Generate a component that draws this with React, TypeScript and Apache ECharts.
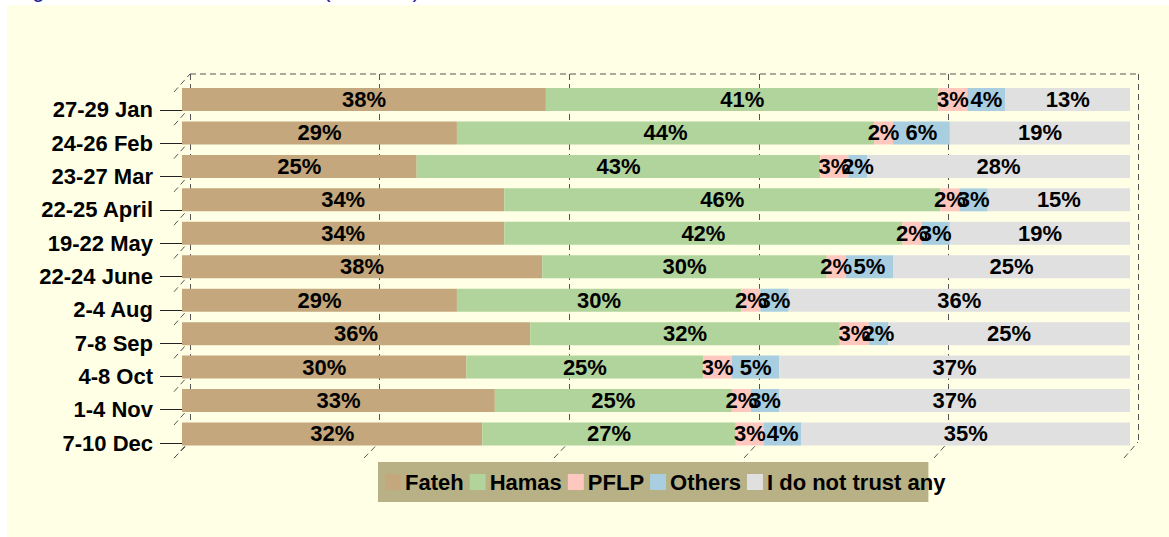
import React, { useEffect, useRef } from "react";
import * as echarts from "echarts";

const categories = ["27-29 Jan", "24-26 Feb", "23-27 Mar", "22-25 April", "19-22 May", "22-24 June", "2-4 Aug", "7-8 Sep", "4-8 Oct", "1-4 Nov", "7-10 Dec"];
const fateh = [38, 29, 25, 34, 34, 38, 29, 36, 30, 33, 32];
const hamas = [41, 44, 43, 46, 42, 30, 30, 32, 25, 25, 27];
const pflp = [3, 2, 3, 2, 2, 2, 2, 3, 3, 2, 3];
const others = [4, 6, 2, 3, 3, 5, 3, 2, 5, 3, 4];
const noTrust = [13, 19, 28, 15, 19, 25, 36, 25, 37, 37, 35];
const seriesNames = ["Fateh", "Hamas", "PFLP", "Others", "I do not trust any"];
const seriesColors = ["#C4A77C", "#B0D49B", "#FFC8BF", "#A8CEE0", "#E0E0E0"];
const xTicks = [0, 20, 40, 60, 80, 100];

const FONT = "'Liberation Sans', Arial, Helvetica, sans-serif";

export default function App() {
  const ref = useRef<HTMLDivElement>(null);
  useEffect(() => {
    if (!ref.current) return;
    const chart = echarts.init(ref.current, null, { renderer: "svg" });
    const raw = [fateh, hamas, pflp, others, noTrust];
    const totals = categories.map((_, i) => raw.reduce((s, arr) => s + arr[i], 0));

    const series = raw.map((arr, si) => ({
      type: "bar",
      name: seriesNames[si],
      stack: "all",
      xAxisIndex: 0,
      yAxisIndex: 0,
      barWidth: 23,
      z: 2,
      itemStyle: { color: seriesColors[si] },
      label: {
        show: true,
        position: "inside",
        color: "#000",
        fontWeight: "bold",
        fontSize: 22,
        fontFamily: FONT,
        formatter: (p: any) => `${arr[p.dataIndex]}%`,
      },
      data: arr.map((v, i) => (v / totals[i]) * 100),
    }));

    // 3D wall decorations
    const dashed = { stroke: "#555", lineWidth: 1, lineDash: [6, 4] };
    const graphics: any[] = [];
    graphics.push({
      type: "text",
      left: 14,
      top: -22,
      z: 10,
      style: {
        text: "Figure 15: Trust in the Factions (Jan-Dec)",
        fill: "#20208F",
        font: `22px ${FONT}`,
      },
    });
    graphics.push({ type: "line", z: 1, shape: { x1: 190, y1: 74, x2: 1138, y2: 74 }, style: dashed });
    for (let k = 0; k <= categories.length; k++) {
      graphics.push({
        type: "line",
        z: 1,
        shape: { x1: 174, y1: 92 + k * 33.3, x2: 190, y2: 74 + k * 33.3 },
        style: dashed,
      });
    }
    xTicks.forEach((_, i) => {
      graphics.push({
        type: "line",
        z: 1,
        shape: { x1: 174 + i * 190, y1: 458, x2: 190 + i * 189.6, y2: 442 },
        style: dashed,
      });
    });

    chart.setOption({
      animation: false,
      backgroundColor: "transparent",
      textStyle: { fontFamily: FONT },
      grid: [
        { left: 182, width: 948, top: 82.8, height: 367.9 },
        { left: 188, width: 900, top: 93.3, height: 366.4 },
        { left: 190, width: 948, top: 74, height: 368 },
      ],
      xAxis: [
        { type: "value", gridIndex: 0, min: 0, max: 100, show: false, splitLine: { show: false } },
        { type: "value", gridIndex: 1, min: 0, max: 100, show: false, splitLine: { show: false } },
        {
          type: "value",
          gridIndex: 2,
          min: 0,
          max: 100,
          interval: 20,
          axisLine: { show: false },
          axisTick: { show: false },
          axisLabel: { show: false },
          splitLine: { show: true, lineStyle: { color: "#555", width: 1, type: [6, 4] } },
        },
      ],
      yAxis: [
        { type: "category", gridIndex: 0, data: categories, inverse: true, show: false },
        {
          type: "category",
          gridIndex: 1,
          data: categories,
          inverse: true,
          axisLine: { show: false },
          axisTick: { show: true, length: 28, alignWithLabel: true, lineStyle: { color: "#222", width: 1 } },
          axisLabel: { margin: 35, color: "#000", fontWeight: "bold", fontSize: 22, fontFamily: FONT },
          splitLine: { show: false },
        },
        { type: "category", gridIndex: 2, data: categories, show: false },
      ],
      legend: {
        data: seriesNames,
        left: 378,
        top: 462,
        orient: "horizontal",
        backgroundColor: "#B8B185",
        padding: [9, -17, 9, 7],
        itemWidth: 16,
        itemHeight: 16,
        itemGap: 6,
        icon: "rect",
        textStyle: { color: "#000", fontWeight: "bold", fontSize: 22, fontFamily: FONT, padding: [0, 0, 0, -1] },
      },
      graphic: graphics,
      series,
    });
    return () => chart.dispose();
  }, []);

  return (
    <div style={{ position: "fixed", left: 0, top: 0, width: 1169, height: 537, background: "#fff", overflow: "hidden" }}>
      <div style={{ position: "absolute", left: 7, top: 5, right: 0, bottom: 0, background: "#FFFFE5" }} />
      <div ref={ref} style={{ position: "absolute", left: 0, top: 0, width: 1169, height: 537 }} />
    </div>
  );
}
